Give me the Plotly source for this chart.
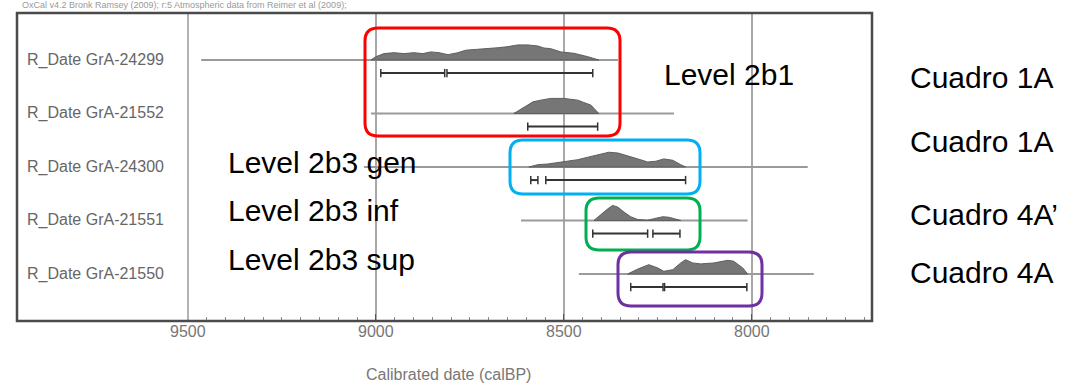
import plotly.graph_objects as go

# ---------------- data (calBP) ----------------
sample_labels = ["R_Date GrA-24299", "R_Date GrA-21552", "R_Date GrA-24300",
                 "R_Date GrA-21551", "R_Date GrA-21550"]

# extent of the thin likelihood line of each date
line_start = [9465, 9013, 9032, 8614, 8460]
line_end = [8356, 8207, 7851, 8011, 7835]

# posterior distributions (relative probability, 0-1)
dist1_x = [9013, 9000, 8979, 8952, 8925, 8899, 8875, 8854, 8832, 8808, 8782, 8761, 8729,
           8702, 8675, 8649, 8622, 8596, 8569, 8553, 8535, 8508, 8473, 8436, 8407]
dist1_p = [0.0, 0.21, 0.41, 0.47, 0.41, 0.47, 0.41, 0.52, 0.47, 0.34, 0.47, 0.63, 0.69,
           0.73, 0.79, 0.86, 0.97, 0.97, 0.90, 0.77, 0.73, 0.52, 0.43, 0.21, 0.0]

dist2_x = [8633, 8596, 8582, 8561, 8535, 8500, 8463, 8447, 8428, 8407]
dist2_p = [0.0, 0.54, 0.75, 0.86, 0.97, 0.97, 0.86, 0.71, 0.54, 0.0]

dist3_x = [8593, 8569, 8543, 8516, 8489, 8463, 8436, 8410, 8380, 8356, 8330, 8303,
           8277, 8255, 8234, 8210, 8189, 8176]
dist3_p = [0.0, 0.15, 0.19, 0.30, 0.37, 0.47, 0.63, 0.79, 0.95, 0.90, 0.73, 0.52,
           0.32, 0.37, 0.52, 0.43, 0.15, 0.0]

dist4_x = [8420, 8402, 8383, 8370, 8356, 8340, 8322, 8303, 8277, 8261, 8237, 8221, 8202, 8189]
dist4_p = [0.0, 0.39, 0.75, 0.97, 0.86, 0.54, 0.24, 0.06, 0.02, 0.11, 0.24, 0.21, 0.06, 0.0]

dist5_x = [8330, 8303, 8274, 8250, 8234, 8210, 8189, 8176, 8157, 8136, 8101, 8064,
           8048, 8024, 8011]
dist5_p = [0.0, 0.32, 0.60, 0.39, 0.17, 0.28, 0.71, 0.92, 0.71, 0.65, 0.71, 0.88,
           0.82, 0.39, 0.0]

# highest posterior density ranges
range1 = [[8987, 8817], [8811, 8423]]
range2 = [[8596, 8410]]
range3 = [[8588, 8569], [8548, 8176]]
range4 = [[8423, 8277], [8263, 8191]]
range5 = [[8322, 8236], [8232, 8013]]

tick_vals = [9500, 9000, 8500, 8000]
tick_labels = ["9500", "9000", "8500", "8000"]

level_labels = ["Level 2b1", "Level 2b3 gen", "Level 2b3 inf", "Level 2b3 sup"]
cuadro_labels = ["Cuadro 1A", "Cuadro 1A", "Cuadro 4A\u2019", "Cuadro 4A"]

header_text = "OxCal v4.2 Bronk Ramsey (2009); r:5 Atmospheric data from Reimer et al (2009);"
axis_title = "Calibrated date (calBP)"

dists = [(dist1_x, dist1_p), (dist2_x, dist2_p), (dist3_x, dist3_p),
         (dist4_x, dist4_p), (dist5_x, dist5_p)]
ranges = [range1, range2, range3, range4, range5]

# ---------------- layout helpers (pixels -> paper) ----------------
W, H = 1084, 383
L, R, T, B = 188, 872, 13, 321


def px(x):
    return (x - L) / (R - L)


def py(y):
    return (B - y) / (B - T)


def rounded(x0, y0, x1, y1, r):
    X0, X1 = px(x0), px(x1)
    Y0, Y1 = py(y0), py(y1)
    rx, ry = r / (R - L), r / (B - T)
    return (f"M {X0+rx},{Y0} L {X1-rx},{Y0} Q {X1},{Y0} {X1},{Y0-ry} "
            f"L {X1},{Y1+ry} Q {X1},{Y1} {X1-rx},{Y1} L {X0+rx},{Y1} "
            f"Q {X0},{Y1} {X0},{Y1+ry} L {X0},{Y0-ry} Q {X0},{Y0} {X0+rx},{Y0} Z")


HSCALE = 0.29   # height of a full-probability peak in row units
BAR_OFF = 0.245

fig = go.Figure()

for i, (xs, ps) in enumerate(dists):
    row = i
    fig.add_trace(go.Scatter(x=[line_start[i], line_end[i]], y=[row, row], mode="lines",
                             line=dict(color="#9a9a9a", width=2), hoverinfo="skip"))
    yy = [row - p * HSCALE for p in ps]
    fig.add_trace(go.Scatter(x=list(xs) + list(xs)[::-1], y=yy + [row] * len(xs),
                             mode="lines", fill="toself", fillcolor="#767676",
                             line=dict(color="#5e5e5e", width=1), hoverinfo="skip"))
    for a, b in ranges[i]:
        fig.add_trace(go.Scatter(x=[a, b], y=[row + BAR_OFF] * 2, mode="lines+markers",
                                 line=dict(color="#333333", width=2),
                                 marker=dict(symbol="line-ns", size=6,
                                             line=dict(color="#333333", width=1.5)),
                                 hoverinfo="skip"))

FONT = "Liberation Sans, Arial, sans-serif"
annotations = []
for i, lab in enumerate(sample_labels):
    annotations.append(dict(x=px(25), y=i, xref="paper", yref="y", text=lab,
                            showarrow=False, xanchor="left", yanchor="middle",
                            font=dict(family=FONT, size=16, color="#666666")))

for v, t in zip(tick_vals, tick_labels):
    annotations.append(dict(x=v, y=py(331), xref="x", yref="paper", text=t,
                            showarrow=False, xanchor="center", yanchor="middle",
                            font=dict(family=FONT, size=16, color="#777777")))

level_pos = [(662, 74), (226, 162.5), (226, 211), (226, 259)]
for lab, (x, y) in zip(level_labels, level_pos):
    annotations.append(dict(x=px(x), y=py(y), xref="paper", yref="paper", text=lab,
                            showarrow=False, xanchor="left", yanchor="middle",
                            font=dict(family=FONT, size=30, color="#000000")))

cuadro_pos = [77.5, 141, 214, 272.5]
for lab, y in zip(cuadro_labels, cuadro_pos):
    annotations.append(dict(x=px(908), y=py(y), xref="paper", yref="paper", text=lab,
                            showarrow=False, xanchor="left", yanchor="middle",
                            font=dict(family=FONT, size=30, color="#000000")))

annotations.append(dict(x=px(448), y=py(374), xref="paper", yref="paper", text=axis_title,
                        showarrow=False, xanchor="center", yanchor="middle",
                        font=dict(family=FONT, size=16, color="#777777")))
annotations.append(dict(x=px(20), y=py(5), xref="paper", yref="paper", text=header_text,
                        showarrow=False, xanchor="left", yanchor="middle",
                        font=dict(family=FONT, size=9, color="#9a9a9a")))

shapes = [
    # label column separator
    dict(type="line", xref="paper", yref="paper", x0=0, x1=0, y0=0, y1=1,
         line=dict(color="#999999", width=1.5), layer="below"),
    # outer frame
    dict(type="rect", xref="paper", yref="paper", x0=px(17), x1=1, y0=0, y1=1,
         line=dict(color="#4a4a4a", width=2.5), layer="above"),
]
boxes = [((365, 28, 620, 136), "#ff0000"), ((510, 140, 700, 194), "#00b0f0"),
         ((586, 198, 700, 250), "#00b050"), ((618, 252, 762, 306), "#7030a0")]
for (x0, y0, x1, y1), col in boxes:
    shapes.append(dict(type="path", xref="paper", yref="paper", path=rounded(x0, y0, x1, y1, 13),
                       line=dict(color=col, width=3), layer="above"))

fig.update_layout(
    width=W, height=H,
    margin=dict(l=L, r=W - R, t=T, b=H - B, pad=0),
    paper_bgcolor="white", plot_bgcolor="white",
    showlegend=False,
    xaxis=dict(range=[9500, 7680], tickmode="array", tickvals=tick_vals, ticktext=tick_labels,
               showticklabels=False,
               showgrid=True, gridcolor="#a8a8a8", gridwidth=1.5, zeroline=False,
               ticks="inside", ticklen=7, tickcolor="#555555", tickwidth=1,
               minor=dict(tickmode="linear", tick0=0, dtick=50, ticks="inside", ticklen=4,
                          tickcolor="#888888", showgrid=False),
               showline=False, fixedrange=True),
    yaxis=dict(range=[4.879, -0.878], showticklabels=False, showgrid=False, zeroline=False,
               ticks="", fixedrange=True),
    annotations=annotations,
    shapes=shapes,
)

fig.write_html("out.html", config={"displayModeBar": False},
               post_script="document.body.style.margin='0';document.body.style.overflow='hidden';")
